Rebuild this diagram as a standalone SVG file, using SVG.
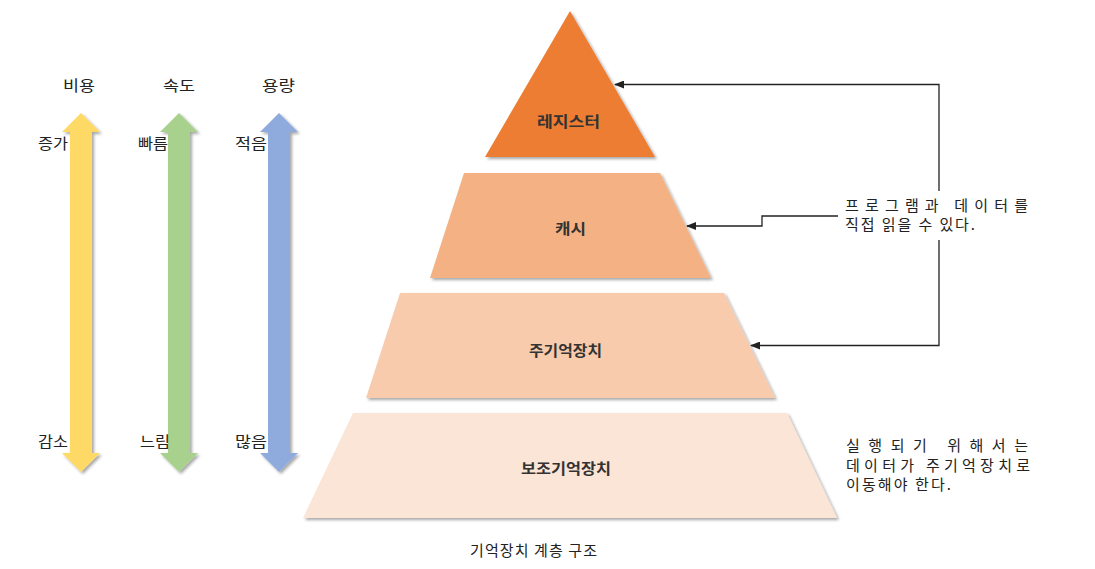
<svg xmlns="http://www.w3.org/2000/svg" width="1095" height="569" viewBox="0 0 1095 569">
<style>
text{font-family:"Noto Sans CJK KR","Noto Sans",sans-serif;fill:#222;}
.hdr{font-size:15px;}
.lbl{font-size:15px;}
.node{font-size:15px;font-weight:bold;fill:#333;}
.note{font-size:15px;}
.conn{fill:none;stroke:#222;stroke-width:1.3;}
.shape{filter:url(#sh);}
</style>
<defs>
<filter id="sh" x="-10%" y="-10%" width="130%" height="130%">
<feGaussianBlur in="SourceAlpha" stdDeviation="1.5"/>
<feOffset dx="2" dy="2" result="b"/>
<feComponentTransfer><feFuncA type="linear" slope="0.35"/></feComponentTransfer>
<feMerge><feMergeNode/><feMergeNode in="SourceGraphic"/></feMerge>
</filter>
<marker id="ah" markerWidth="10" markerHeight="8" refX="9" refY="4" orient="auto" markerUnits="userSpaceOnUse">
<path d="M0,0 L10,4 L0,8 Z" fill="#222"/>
</marker>
</defs>

<g id="cost-axis">
<path class="shape" d="M81,113 L100,132 L92,132 L92,453 L100,453 L81,472 L62,453 L70,453 L70,132 L62,132 Z" fill="#FFD966"/>
<text class="hdr" x="63" y="91" textLength="32" lengthAdjust="spacingAndGlyphs">비용</text>
<text class="lbl" x="38" y="149" textLength="30" lengthAdjust="spacingAndGlyphs">증가</text>
<text class="lbl" x="38" y="447" textLength="30" lengthAdjust="spacingAndGlyphs">감소</text>
</g>
<g id="speed-axis">
<path class="shape" d="M179,113 L198,132 L190,132 L190,453 L198,453 L179,472 L160,453 L168,453 L168,132 L160,132 Z" fill="#A9D18E"/>
<text class="hdr" x="163" y="91" textLength="32" lengthAdjust="spacingAndGlyphs">속도</text>
<text class="lbl" x="138" y="149" textLength="30" lengthAdjust="spacingAndGlyphs">빠름</text>
<text class="lbl" x="140" y="447" textLength="30" lengthAdjust="spacingAndGlyphs">느림</text>
</g>
<g id="capacity-axis">
<path class="shape" d="M279,113 L298,132 L290,132 L290,453 L298,453 L279,472 L260,453 L268,453 L268,132 L260,132 Z" fill="#8FAADC"/>
<text class="hdr" x="262" y="91" textLength="33" lengthAdjust="spacingAndGlyphs">용량</text>
<text class="lbl" x="235" y="149" textLength="32" lengthAdjust="spacingAndGlyphs">적음</text>
<text class="lbl" x="235" y="447" textLength="32" lengthAdjust="spacingAndGlyphs">많음</text>
</g>

<g id="register">
<polygon class="shape" points="570,11 655,157 485,157" fill="#ED7D31"/>
<text class="node" x="537" y="127" textLength="63" lengthAdjust="spacingAndGlyphs">레지스터</text>
</g>
<g id="cache">
<polygon class="shape" points="464,173 660,173 711,278 430,278" fill="#F4B183"/>
<text class="node" x="555" y="234" textLength="31" lengthAdjust="spacingAndGlyphs">캐시</text>
</g>
<g id="main-memory">
<polygon class="shape" points="400,293 724,293 775,398 366,398" fill="#F8CBAD"/>
<text class="node" x="529" y="356" textLength="73" lengthAdjust="spacingAndGlyphs">주기억장치</text>
</g>
<g id="secondary-storage">
<polygon class="shape" points="353,413 787,413 837,518 303,518" fill="#FBE5D6"/>
<text class="node" x="521" y="474" textLength="90" lengthAdjust="spacingAndGlyphs">보조기억장치</text>
</g>

<g id="note-direct">
<text class="note" x="845" y="211" xml:space="preserve" textLength="183" lengthAdjust="spacing">프 로 그 램 과   데 이 터 를</text>
<text class="note" x="845" y="230" textLength="130" lengthAdjust="spacing">직접 읽을 수 있다.</text>
</g>
<g id="note-move">
<text class="note" x="846" y="451" xml:space="preserve" textLength="182" lengthAdjust="spacing">실 행 되 기   위 해 서 는</text>
<text class="note" x="846" y="471" textLength="184" lengthAdjust="spacing">데이터가 주기억장치로</text>
<text class="note" x="846" y="490" textLength="105" lengthAdjust="spacing">이동해야 한다.</text>
</g>

<g id="connectors">
<path class="conn" d="M939,191 L939,84.5 L615,84.5" marker-end="url(#ah)"/>
<path class="conn" d="M838,216 L762,216 L762,226 L687,226" marker-end="url(#ah)"/>
<path class="conn" d="M939,240 L939,345.5 L751,345.5" marker-end="url(#ah)"/>
</g>

<text x="470" y="556" textLength="127" lengthAdjust="spacing" style="font-size:15px">기억장치 계층 구조</text>
</svg>
